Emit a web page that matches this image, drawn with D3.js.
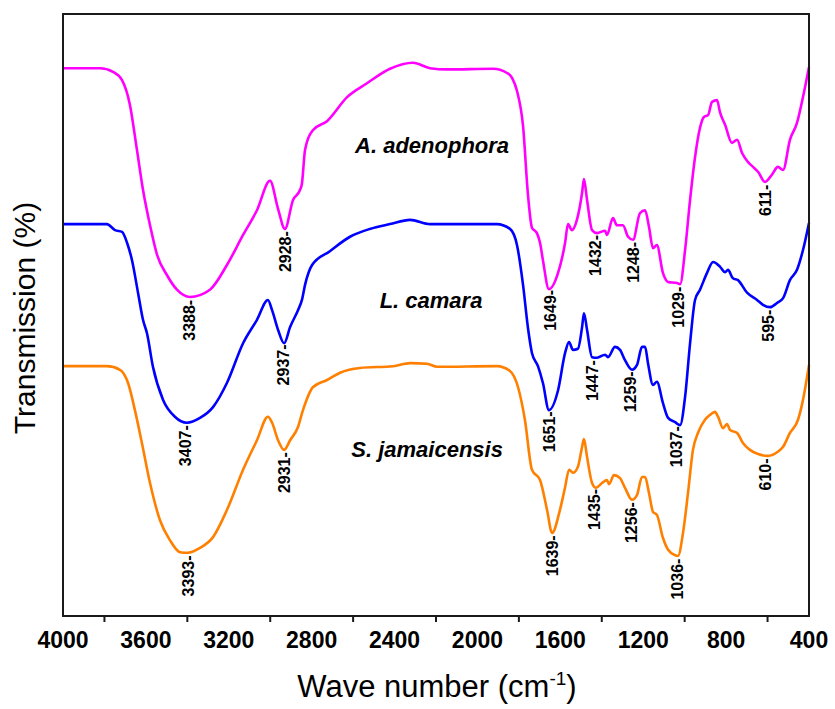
<!DOCTYPE html>
<html><head><meta charset="utf-8">
<script src="https://cdn.jsdelivr.net/npm/d3@7"></script>
<style>body{margin:0;background:#fff} svg{display:block}</style>
</head><body>
<svg id="chart" width="835" height="709"></svg>
<script>
// ---------- DATA ----------
const xTickValues = [3800, 3400, 3000, 2600, 2200, 1800, 1400, 1000, 600];
const xLabelValues = [4000, 3600, 3200, 2800, 2400, 2000, 1600, 1200, 800, 400];

const seriesNames = ["A. adenophora", "L. camara", "S. jamaicensis"];
const seriesColors = ["#ff00ff", "#0000ff", "#ff8000"];

const adenophoraWave = [4000,3821,3759,3715,3677,3643,3614,3580,3546,3498,3450,3387,3291,3209,3131,3064,3001,2962,2929,2890,2856,2847,2832,2794,2726,2629,2533,2422,2311,2229,2147,1925,1857,1833,1809,1780,1756,1737,1713,1698,1684,1655,1611,1577,1563,1544,1520,1495,1486,1471,1447,1423,1384,1375,1346,1327,1298,1273,1249,1216,1191,1172,1153,1134,1105,1080,1037,1022,998,974,950,926,907,887,868,844,829,805,772,747,723,694,670,646,612,579,550,525,492,458,429,400];
const adenophoraT = [91.0,91.0,90.4,89.0,84.9,77.4,70.8,64.9,60.0,56.6,54.2,53.0,54.2,58.3,63.3,67.4,72.3,67.6,64.3,69.1,70.8,71.8,77.4,80.7,82.2,86.2,88.5,90.9,91.9,91.0,90.8,90.9,90.2,89.4,87.2,81.4,69.9,64.5,63.6,62.0,59.1,54.3,57.0,62.0,65.1,64.1,65.8,70.3,72.6,69.1,64.1,63.6,64.0,63.3,66.1,64.9,64.9,63.0,62.5,66.9,67.4,64.6,61.1,61.6,57.0,55.5,55.3,55.1,60.8,69.1,76.2,81.1,82.9,83.2,85.4,85.7,83.6,81.6,78.6,79.1,76.9,75.4,74.6,73.8,72.1,73.3,74.6,74.1,79.1,81.9,86.2,91.2];

const camaraWave = [4000,3855,3788,3749,3715,3691,3667,3638,3614,3595,3566,3517,3460,3402,3339,3276,3209,3131,3064,3011,2991,2962,2933,2904,2866,2847,2832,2798,2712,2615,2519,2422,2325,2229,2132,1906,1843,1809,1780,1756,1737,1708,1684,1655,1611,1577,1558,1539,1515,1495,1486,1471,1447,1423,1384,1370,1336,1312,1288,1254,1230,1206,1191,1177,1153,1134,1105,1080,1046,1022,998,974,950,926,892,863,829,805,791,767,743,699,651,622,588,554,525,492,458,429,400];
const camaraT = [65.1,65.1,65.1,64.1,63.8,62.0,59.1,53.7,49.2,47.0,41.4,35.9,33.1,32.1,32.9,34.7,38.7,45.3,49.2,52.5,50.8,47.5,45.3,48.0,50.8,52.5,55.0,58.3,60.6,63.0,64.3,65.1,65.8,65.1,65.1,65.1,64.3,61.6,55.0,47.8,43.7,41.5,38.7,34.2,37.5,43.7,45.5,44.2,44.4,48.0,50.3,47.5,43.0,42.9,43.4,43.0,44.7,44.2,42.5,40.9,41.7,44.7,44.7,42.0,38.4,38.9,35.4,32.9,32.2,31.7,36.4,45.3,52.5,54.2,57.0,58.8,58.0,57.1,57.5,56.1,55.8,53.7,52.5,51.7,51.3,52.0,52.8,55.8,57.5,60.8,65.3];

const jamaicensisWave = [4000,3788,3725,3686,3653,3619,3580,3532,3484,3435,3397,3339,3276,3209,3131,3064,3011,2991,2962,2933,2904,2866,2842,2794,2726,2663,2567,2407,2325,2243,2195,1906,1843,1804,1771,1737,1698,1664,1640,1602,1577,1558,1539,1515,1495,1486,1471,1447,1428,1399,1375,1365,1341,1312,1288,1254,1230,1206,1191,1172,1153,1134,1105,1080,1046,1032,1008,984,960,936,902,878,854,839,815,796,781,747,718,685,646,598,554,525,492,453,429,400];
const jamaicensisT = [41.5,41.5,40.9,38.7,34.2,28.7,22.1,15.9,12.6,10.6,10.5,11.3,13.1,17.6,24.3,29.2,33.1,32.1,29.2,27.6,29.2,31.4,34.2,38.0,39.2,40.4,41.2,41.5,42.0,41.9,41.4,41.5,40.7,38.0,32.6,24.3,22.6,17.6,13.8,17.6,21.4,24.3,23.8,24.8,28.1,29.4,26.4,22.1,21.3,22.1,22.6,21.9,23.4,22.9,21.3,19.3,20.1,23.1,23.1,20.4,17.3,16.8,13.0,11.0,10.1,10.0,13.8,20.4,27.6,30.4,32.6,33.4,33.9,33.1,31.2,31.9,30.9,30.4,28.7,27.6,26.9,26.6,27.2,28.1,30.4,32.6,35.9,41.7];

const adenophoraPeaks = [3388, 2928, 1649, 1432, 1248, 1029, 611];
const camaraPeaks = [3407, 2937, 1651, 1447, 1259, 1037, 595];
const jamaicensisPeaks = [3393, 2931, 1639, 1435, 1256, 1036, 610];

// species label anchor (wavenumber, transmission)
const nameWave = [2219, 2224, 2243];
const nameT = [76.9, 51.2, 26.4];

// ---------- CHART ----------
const svg = d3.select("#chart");
const mLeft = 63, mRight = 809, mTop = 14, mBottom = 616;
const font = "'Liberation Sans', Arial, Helvetica, sans-serif";

const x = d3.scaleLinear().domain([4000, 400]).range([mLeft, mRight]);
const y = d3.scaleLinear().domain([0, 100]).range([mBottom, mTop]);

const series = [
  {wave: adenophoraWave, t: adenophoraT, peaks: adenophoraPeaks},
  {wave: camaraWave, t: camaraT, peaks: camaraPeaks},
  {wave: jamaicensisWave, t: jamaicensisT, peaks: jamaicensisPeaks}
];

function interp(waves, vals, w) {
  for (let i = 0; i < waves.length - 1; i++) {
    if (waves[i] >= w && waves[i + 1] <= w) {
      const f = (waves[i] - w) / (waves[i] - waves[i + 1]);
      return vals[i] + f * (vals[i + 1] - vals[i]);
    }
  }
  return vals[vals.length - 1];
}

const line = d3.line()
  .x(d => x(d[0]))
  .y(d => y(d[1]))
  .curve(d3.curveMonotoneX);

series.forEach((s, k) => {
  const pts = s.wave.map((w, i) => [w, s.t[i]]);
  svg.append("path")
    .attr("d", line(pts))
    .attr("fill", "none")
    .attr("stroke", seriesColors[k])
    .attr("stroke-width", 2.6)
    .attr("stroke-linejoin", "round");

  s.peaks.forEach(p => {
    const px = x(p), py = y(interp(s.wave, s.t, p)) + 3;
    svg.append("text")
      .attr("transform", `translate(${px},${py}) rotate(-90)`)
      .attr("text-anchor", "end")
      .attr("dominant-baseline", "central")
      .attr("font-family", font)
      .attr("font-size", 16)
      .attr("font-weight", "bold")
      .attr("fill", "#000")
      .text(p + "-");
  });

  svg.append("text")
    .attr("x", x(nameWave[k]))
    .attr("y", y(nameT[k]))
    .attr("text-anchor", "middle")
    .attr("font-family", font)
    .attr("font-size", 22)
    .attr("font-weight", "bold")
    .attr("font-style", "italic")
    .attr("fill", "#000")
    .text(seriesNames[k]);
});

// frame
svg.append("rect")
  .attr("x", mLeft).attr("y", mTop)
  .attr("width", mRight - mLeft).attr("height", mBottom - mTop)
  .attr("fill", "none").attr("stroke", "#1a1a1a").attr("stroke-width", 2);

// ticks
svg.selectAll(".tick").data(xTickValues).enter().append("line")
  .attr("x1", d => x(d)).attr("x2", d => x(d))
  .attr("y1", mBottom).attr("y2", mBottom + 6)
  .attr("stroke", "#1a1a1a").attr("stroke-width", 2);

svg.selectAll(".tlabel").data(xLabelValues).enter().append("text")
  .attr("x", d => x(d)).attr("y", 647.5)
  .attr("text-anchor", "middle")
  .attr("font-family", font)
  .attr("font-size", 23)
  .attr("font-weight", "bold")
  .attr("fill", "#000")
  .text(d => d);

// axis titles
const xt = svg.append("text")
  .attr("x", 437).attr("y", 697)
  .attr("text-anchor", "middle")
  .attr("font-family", font)
  .attr("font-size", 31)
  .attr("fill", "#000");
xt.append("tspan").text("Wave number (cm");
xt.append("tspan").attr("font-size", 19).attr("dy", -12).text("-1");
xt.append("tspan").attr("dy", 12).text(")");

svg.append("text")
  .attr("transform", "translate(35,318) rotate(-90)")
  .attr("text-anchor", "middle")
  .attr("font-family", font)
  .attr("font-size", 30)
  .attr("fill", "#000")
  .text("Transmission (%)");
</script>
</body></html>
